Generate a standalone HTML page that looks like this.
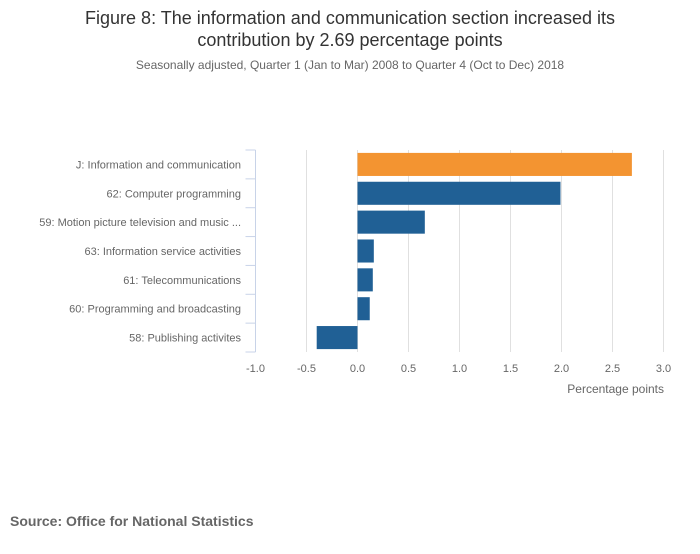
<!DOCTYPE html>
<html><head><meta charset="utf-8"><style>
body{margin:0;background:#fff;font-family:"Liberation Sans",sans-serif;}
</style></head><body>
<svg width="700" height="549" xmlns="http://www.w3.org/2000/svg" font-family="Liberation Sans, sans-serif">
<rect width="700" height="549" fill="#fff"/>
<text x="350" y="24" text-anchor="middle" font-size="18" fill="#333">Figure 8: The information and communication section increased its</text>
<text x="350" y="46" text-anchor="middle" font-size="18" fill="#333">contribution by 2.69 percentage points</text>
<text x="350" y="69" text-anchor="middle" font-size="12" fill="#666">Seasonally adjusted, Quarter 1 (Jan to Mar) 2008 to Quarter 4 (Oct to Dec) 2018</text>
<g id="grid"></g><g id="bars"></g><g id="axes"></g>
<text x="664" y="393" text-anchor="end" font-size="12" fill="#666">Percentage points</text>
<text x="10" y="526" font-size="14" font-weight="bold" fill="#666">Source: Office for National Statistics</text>
</svg>
<script>
const categories=["J: Information and communication","62: Computer programming","59: Motion picture television and music ...","63: Information service activities","61: Telecommunications","60: Programming and broadcasting","58: Publishing activites"];
const values=[2.69,1.99,0.66,0.16,0.15,0.12,-0.40];
const colors=["#f39431","#206095","#206095","#206095","#206095","#206095","#206095"];
const ticks=[-1,-0.5,0,0.5,1,1.5,2,2.5,3];
const tickLabels=["-1.0","-0.5","0.0","0.5","1.0","1.5","2.0","2.5","3.0"];
const NS="http://www.w3.org/2000/svg";
const x0=255.5,x1=663.5,yTop=150,yBottom=352;
const xs=v=>x0+(v+1)/4*(x1-x0);
const step=(yBottom-yTop)/categories.length;
const grid=document.getElementById('grid'),bars=document.getElementById('bars'),axes=document.getElementById('axes');
function mk(t,a,p){const e=document.createElementNS(NS,t);for(const k in a)e.setAttribute(k,a[k]);p.appendChild(e);return e;}
ticks.forEach((t,i)=>{
 if(i>0){const g=mk('line',{x1:xs(t),x2:xs(t),y1:yTop,y2:yBottom,stroke:'#e0e0e0'},grid);
 
 }
 const l=mk('text',{x:xs(t),y:372,'text-anchor':'middle','font-size':11,fill:'#666'},axes);
 l.textContent=tickLabels[i];
 
 
});
const ax=mk('line',{x1:x0,x2:x0,y1:yTop,y2:yBottom,stroke:'#c8d3e8'},axes);


for(let i=0;i<=categories.length;i++){const tk=mk('line',{x1:x0-10,x2:x0,y1:yTop+i*step,y2:yTop+i*step,stroke:'#c8d3e8'},axes);
 
 }
categories.forEach((c,i)=>{
 const v=values[i],y=yTop+i*step+2.9,h=step-5.8;
 const r=mk('rect',{x:Math.min(xs(0),xs(v)),y:y,width:Math.abs(xs(v)-xs(0)),height:h,fill:colors[i]},bars);
 
 
 const t=mk('text',{x:241,y:yTop+i*step+step/2+4,'text-anchor':'end','font-size':11,fill:'#666'},axes);
 t.textContent=c;
 
 
});
</script>
</body></html>
